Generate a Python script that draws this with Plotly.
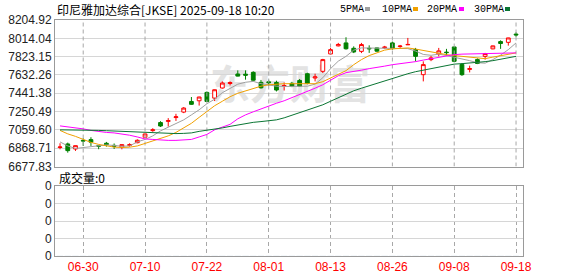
import plotly.graph_objects as go

dates = ["06-24","06-25","06-26","06-30","07-01","07-02","07-03","07-04","07-07","07-08",
         "07-09","07-10","07-11","07-14","07-15","07-16","07-17","07-18","07-21","07-22",
         "07-23","07-24","07-25","07-28","07-29","07-30","07-31","08-01","08-04","08-05",
         "08-06","08-07","08-08","08-11","08-12","08-13","08-14","08-15","08-19","08-20",
         "08-21","08-22","08-25","08-26","08-27","08-28","08-29","09-01","09-02","09-03",
         "09-04","09-08","09-09","09-10","09-11","09-12","09-15","09-16","09-17","09-18"]

opens = [6876, 6913, 6860, 6950, 6958, 6895, 6920, 6898, 6879, 6898, 6926, 6983, 7052, 7136, 7148,
         7188, 7245, 7356, 7363, 7450, 7391, 7496, 7543, 7642, 7640, 7659, 7555, 7560, 7554, 7516,
         7545, 7575, 7645, 7600, 7670, 7851, 7935, 7966, 7910, 7878, 7910, 7914, 7915, 7966, 7928,
         7946, 7896, 7635, 7792, 7851, 7870, 7924, 7742, 7690, 7792, 7826, 7904, 7980, 7972, 8058]
highs = [6920, 6927, 6897, 6972, 6983, 6903, 6934, 6918, 6908, 6920, 6961, 7020, 7077, 7150, 7182,
         7227, 7297, 7402, 7405, 7460, 7480, 7565, 7565, 7680, 7680, 7670, 7580, 7582, 7572, 7554,
         7560, 7590, 7655, 7645, 7800, 7914, 7966, 8025, 7930, 7966, 7941, 7918, 7935, 7980, 7945,
         8018, 7914, 7774, 7830, 7914, 7904, 7930, 7757, 7729, 7805, 7862, 7938, 7993, 8020, 8077]
lows = [6857, 6822, 6840, 6892, 6892, 6858, 6885, 6860, 6857, 6885, 6920, 6980, 7040, 7090, 7094,
        7153, 7234, 7321, 7313, 7350, 7360, 7490, 7523, 7617, 7583, 7565, 7490, 7520, 7460, 7470,
        7505, 7510, 7535, 7565, 7652, 7844, 7930, 7896, 7860, 7860, 7862, 7875, 7905, 7896, 7915,
        7944, 7774, 7565, 7776, 7826, 7833, 7764, 7622, 7659, 7745, 7792, 7900, 7904, 7938, 8030]
closes = [6881, 6843, 6895, 6944, 6931, 6890, 6906, 6888, 6906, 6905, 6951, 7017, 7060, 7100, 7156,
          7196, 7287, 7326, 7402, 7356, 7478, 7548, 7552, 7620, 7630, 7577, 7498, 7552, 7475, 7522,
          7515, 7515, 7543, 7612, 7792, 7896, 7950, 7905, 7872, 7949, 7905, 7880, 7922, 7907, 7933,
          7950, 7826, 7740, 7810, 7883, 7865, 7774, 7635, 7698, 7752, 7855, 7935, 7960, 8018, 8050]

ma5 = [6934, 6892, 6866, 6877, 6887, 6892, 6903, 6897, 6889, 6892, 6934, 6960, 6997, 7049, 7086,
       7122, 7164, 7216, 7269, 7332, 7379, 7447, 7496, 7536, 7556, 7565, 7541, 7530, 7515, 7512,
       7512, 7512, 7515, 7536, 7603, 7698, 7776, 7826, 7891, 7914, 7914, 7914, 7914, 7914, 7914,
       7907, 7881, 7846, 7837, 7849, 7834, 7813, 7799, 7781, 7760, 7755, 7792, 7839, 7896, 7966]
ma10 = [7054, 7018, 6992, 6960, 6929, 6908, 6892, 6880, 6876, 6879, 6892, 6918, 6944, 6971, 6997,
        7033, 7077, 7128, 7190, 7248, 7311, 7358, 7405, 7441, 7467, 7494, 7515, 7530, 7538, 7541,
        7541, 7541, 7541, 7541, 7562, 7598, 7635, 7677, 7739, 7792, 7834, 7865, 7891, 7904, 7909,
        7914, 7902, 7886, 7870, 7860, 7844, 7834, 7826, 7818, 7807, 7802, 7818, 7834, 7849, 7862]
ma20 = [7101, 7091, 7083, 7070, 7054, 7042, 7033, 7028, 7018, 7004, 6986, 6965, 6960, 6953, 6950,
        6950, 6953, 6960, 6986, 7012, 7060, 7086, 7117, 7175, 7216, 7248, 7279, 7311, 7337, 7363,
        7394, 7426, 7457, 7494, 7530, 7577, 7624, 7656, 7666, 7682, 7698, 7708, 7724, 7739, 7750,
        7757, 7771, 7787, 7802, 7816, 7828, 7844, 7849, 7852, 7855, 7855, 7855, 7857, 7860, 7862]
ma30 = [7060, 7060, 7060, 7060, 7056, 7054, 7051, 7047, 7044, 7042, 7039, 7035, 7033, 7028, 7023,
        7021, 7023, 7028, 7044, 7054, 7065, 7080, 7096, 7112, 7128, 7138, 7146, 7154, 7164, 7185,
        7211, 7237, 7264, 7290, 7321, 7358, 7394, 7431, 7467, 7494, 7520, 7546, 7572, 7598, 7619,
        7645, 7666, 7682, 7698, 7713, 7729, 7745, 7750, 7755, 7760, 7771, 7781, 7797, 7813, 7826]
volume = [0] * len(dates)

y_ticks = [8204.92, 8014.04, 7823.15, 7632.26, 7441.38, 7250.49, 7059.60, 6868.71, 6677.83]
x_tick_labels = ["06-30", "07-10", "07-22", "08-01", "08-13", "08-26", "09-08", "09-18"]
vol_ticks = [0, 1, 2, 3, 4]

idx = list(range(len(dates)))
x_tick_pos = [dates.index(d) for d in x_tick_labels]

W, H = 578, 276
L, R, T, B = 55, 55, 20, 20
PW, PH = W - L - R, H - T - B

def px(x):
    return (x - L) / PW

def py(y):
    return (H - B - y) / PH

UP = "#ff0000"
DOWN = "#008000"
C5, C10, C20, C30 = "#a0a0a0", "#f0a000", "#ff00ff", "#0a7533"
GRID = "#d6d6d6"
VGRID = "#a8a8a8"
FRAME = "#9a9a9a"

fig = go.Figure()

# dashed vertical guides at the labelled dates in the price panel
gx, gy = [], []
for pos in x_tick_pos:
    gx += [pos, pos, None]
    gy += [y_ticks[-1], y_ticks[0], None]
fig.add_trace(go.Scatter(x=gx, y=gy, mode="lines", line=dict(color=VGRID, width=1, dash="4px,3px"),
                         hoverinfo="skip", showlegend=False, xaxis="x", yaxis="y"))

fig.add_trace(go.Candlestick(
    x=idx, open=opens, high=highs, low=lows, close=closes,
    increasing=dict(line=dict(color=UP, width=1), fillcolor="#ffffff"),
    decreasing=dict(line=dict(color=DOWN, width=1), fillcolor=DOWN),
    whiskerwidth=0, hoverinfo="skip", showlegend=False,
    xaxis="x", yaxis="y",
))
for vals, col in [(ma5, C5), (ma10, C10), (ma20, C20), (ma30, C30)]:
    fig.add_trace(go.Scatter(x=idx, y=vals, mode="lines",
                             line=dict(color=col, width=1), hoverinfo="skip",
                             showlegend=False, xaxis="x", yaxis="y"))

fig.add_trace(go.Bar(x=idx, y=volume, marker_color=UP, showlegend=False,
                     hoverinfo="skip", xaxis="x2", yaxis="y2"))

xr = [-0.65, len(dates) - 0.1]
common_x = dict(range=xr, tickvals=x_tick_pos, ticktext=x_tick_labels,
                gridcolor=VGRID, griddash="4px,3px", gridwidth=1,
                showline=True, mirror=True, linecolor=FRAME, linewidth=1,
                zeroline=False, ticks="", fixedrange=True, automargin=False)

fig.update_layout(
    width=W, height=H,
    margin=dict(l=L, r=R, t=T, b=B, pad=0, autoexpand=False),
    paper_bgcolor="#ffffff", plot_bgcolor="#ffffff",
    font=dict(family="Arial, Liberation Sans, sans-serif", size=12, color="#333333"),
    xaxis=dict(anchor="y", domain=[0, 1], showticklabels=False, showgrid=False,
               rangeslider=dict(visible=False), **common_x),
    xaxis2=dict(anchor="y2", domain=[0, 1], showticklabels=True, showgrid=True,
                tickfont=dict(color="#ff0000", size=12, family="Arial, Liberation Sans"),
                **common_x),
    yaxis=dict(anchor="x", domain=[py(166.5), 1.0], range=[y_ticks[-1], y_ticks[0]],
               tickvals=y_ticks, ticktext=["%.2f" % v for v in y_ticks],
               showgrid=True, gridcolor=GRID, gridwidth=1,
               showline=True, mirror=True, linecolor=FRAME, linewidth=1,
               zeroline=False, ticks="", fixedrange=True, automargin=False,
               tickfont=dict(size=12, color="#222222")),
    yaxis2=dict(anchor="x2", domain=[0, py(186)], range=[0, 4],
                tickvals=vol_ticks, ticktext=["0"] * len(vol_ticks),
                showgrid=True, gridcolor=GRID, gridwidth=1,
                showline=True, mirror=True, linecolor=FRAME, linewidth=1,
                zeroline=False, ticks="", fixedrange=True, automargin=False,
                tickfont=dict(size=12, color="#222222")),
    hovermode=False,
)

annotations = [
    dict(text="印尼雅加达综合[JKSE] 2025-09-18 10:20", x=px(55), y=py(9.5),
         xref="paper", yref="paper", xanchor="left", yanchor="middle", showarrow=False,
         font=dict(family="Noto Sans CJK SC", size=12, color="#000000")),
    dict(text="成交量:0", x=px(57), y=py(177), xref="paper", yref="paper",
         xanchor="left", yanchor="middle", showarrow=False,
         font=dict(family="Noto Sans CJK SC", size=12, color="#000000")),
]
legend_items = [("5PMA", 338, 365, C5), ("10PMA", 380, 413, C10),
                ("20PMA", 425, 459, C20), ("30PMA", 472, 505, C30)]
shapes = [dict(type="rect", xref="paper", yref="paper",
               x0=px(200), x1=px(380), y0=py(110), y1=py(66),
               line=dict(width=0), fillcolor="rgba(0,0,0,0)", layer="below",
               label=dict(text="<b>东方财富</b>", textposition="middle center",
                          font=dict(family="Noto Sans CJK SC", size=40, color="#e3e3e3")))]
for name, tx, sx, col in legend_items:
    annotations.append(dict(text=name, x=px(tx), y=py(9.5), xref="paper", yref="paper",
                            xanchor="left", yanchor="middle", showarrow=False,
                            font=dict(family="Liberation Mono", size=10, color="#000000")))
    shapes.append(dict(type="rect", xref="paper", yref="paper",
                       x0=px(sx), x1=px(sx + 5), y0=py(11), y1=py(7),
                       fillcolor=col, line=dict(width=0)))

fig.update_layout(annotations=annotations, shapes=shapes)

fig.write_html("out.html", config={"displayModeBar": False, "staticPlot": True})
